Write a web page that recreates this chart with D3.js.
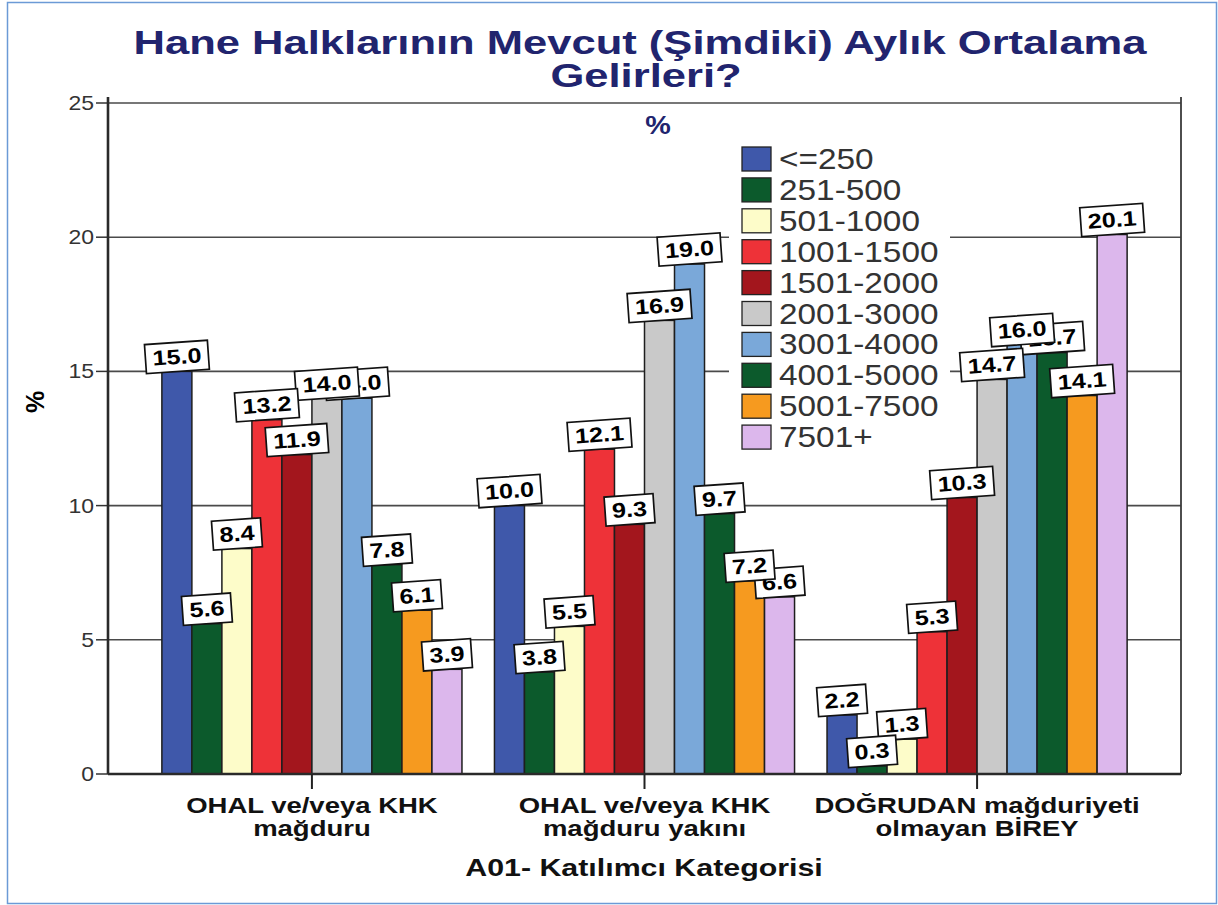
<!DOCTYPE html>
<html lang="tr">
<head>
<meta charset="UTF-8">
<title>Hane Halklarının Mevcut Aylık Ortalama Gelirleri</title>
<script src="https://d3js.org/d3.v7.min.js"></script>
<style>
  body { margin: 0; background: #fff; }
  text { font-family: "Liberation Sans", Arial, sans-serif; }
</style>
</head>
<body>
<svg width="1218" height="905"></svg>
<script>
// --- data ---
var categories = [
  ["OHAL ve/veya KHK", "mağduru"],
  ["OHAL ve/veya KHK", "mağduru yakını"],
  ["DOĞRUDAN mağduriyeti", "olmayan BİREY"]
];
var incomeGroups = ["<=250", "251-500", "501-1000", "1001-1500", "1501-2000",
                    "2001-3000", "3001-4000", "4001-5000", "5001-7500", "7501+"];
var valuesVictim   = [15.0, 5.6, 8.4, 13.2, 11.9, 14.0, 14.0, 7.8, 6.1, 3.9];
var valuesRelative = [10.0, 3.8, 5.5, 12.1, 9.3, 16.9, 19.0, 9.7, 7.2, 6.6];
var valuesOther    = [2.2, 0.3, 1.3, 5.3, 10.3, 14.7, 16.0, 15.7, 14.1, 20.1];
var yTicks = [0, 5, 10, 15, 20, 25];
var groupColors = ["#3f58aa", "#0c5a2c", "#fdfcc9", "#ee3238", "#a3161d",
                   "#c9c9c9", "#7aa8d9", "#0c5a2c", "#f69a1f", "#dcb7ec"];

var series = [valuesVictim, valuesRelative, valuesOther];

var svg = d3.select("svg");

// text drawn with a horizontal stretch, the source picture is wider than tall
function stext(g, x, y, str, size, weight, anchor, fill, sx) {
  return g.append("text")
    .attr("transform", "translate(" + x + "," + y + ") scale(" + (sx || 1.15) + ",1)")
    .attr("text-anchor", anchor || "middle")
    .attr("font-size", size)
    .attr("font-weight", weight || "normal")
    .attr("fill", fill || "#000")
    .text(str);
}

// outer frame
svg.append("rect")
  .attr("x", 7.5).attr("y", 2.5).attr("width", 1209).attr("height", 901)
  .attr("fill", "none").attr("stroke", "#6b9ad6").attr("stroke-width", 1.5);

var plotL = 108, plotR = 1181, plotT = 103, plotB = 774;

var y = d3.scaleLinear().domain([0, 25]).range([plotB, plotT]);
var x0 = d3.scaleBand().domain(d3.range(categories.length))
  .range([plotL, plotR]).paddingInner(0.0977).paddingOuter(0.162);
var x1 = d3.scaleBand().domain(incomeGroups).range([0, x0.bandwidth()]);

// title
stext(svg, 640, 54, "Hane Halklarının Mevcut (Şimdiki) Aylık Ortalama", 33, "bold", "middle", "#21246e", 1.32);
stext(svg, 646, 87, "Gelirleri?", 33, "bold", "middle", "#21246e", 1.32);
stext(svg, 658, 134, "%", 25, "bold", "middle", "#21246e");

// grid lines
svg.append("g").selectAll("line").data(yTicks.filter(function(d) { return d > 0; }))
  .join("line")
  .attr("x1", plotL).attr("x2", plotR)
  .attr("y1", function(d) { return y(d); }).attr("y2", function(d) { return y(d); })
  .attr("stroke", "#4a4a4a").attr("stroke-width", 1.6);

// legend background hides the grid behind it
svg.append("rect")
  .attr("x", 729).attr("y", 140).attr("width", 221).attr("height", 312)
  .attr("fill", "#fff");

// bars
var groups = svg.append("g").selectAll("g").data(series).join("g")
  .attr("transform", function(d, i) { return "translate(" + x0(i) + ",0)"; });

groups.selectAll("rect").data(function(d) { return d; }).join("rect")
  .attr("x", function(d, i) { return x1(incomeGroups[i]); })
  .attr("y", function(d) { return y(d); })
  .attr("width", x1.bandwidth())
  .attr("height", function(d) { return y(0) - y(d); })
  .attr("fill", function(d, i) { return groupColors[i]; })
  .attr("stroke", "#1e1e1e").attr("stroke-width", 1.5);

// axes
var yAxis = svg.append("g").attr("transform", "translate(" + plotL + ",0)");
yAxis.selectAll("line.tick").data(yTicks).join("line")
  .attr("class", "tick")
  .attr("x1", -12).attr("x2", 0)
  .attr("y1", function(d) { return y(d); }).attr("y2", function(d) { return y(d); })
  .attr("stroke", "#333").attr("stroke-width", 1.5);
yTicks.forEach(function(t) {
  stext(yAxis, -14, y(t) + 7, String(t), 20, "normal", "end", "#333");
});
svg.append("line").attr("x1", plotL).attr("x2", plotL).attr("y1", plotT - 6).attr("y2", plotB)
  .attr("stroke", "#2a2a2a").attr("stroke-width", 2.6);
svg.append("line").attr("x1", plotR).attr("x2", plotR).attr("y1", plotT - 6).attr("y2", plotB)
  .attr("stroke", "#3a3a3a").attr("stroke-width", 1.8);
svg.append("line").attr("x1", plotL).attr("x2", plotR).attr("y1", plotB).attr("y2", plotB)
  .attr("stroke", "#2a2a2a").attr("stroke-width", 2.4);

// category ticks and labels
categories.forEach(function(c, i) {
  var cx = x0(i) + x0.bandwidth() / 2;
  svg.append("line").attr("x1", cx).attr("x2", cx).attr("y1", plotB).attr("y2", plotB + 15)
    .attr("stroke", "#222").attr("stroke-width", 2);
  stext(svg, cx, 813, c[0], 22, "bold", "middle", "#111", 1.25);
  stext(svg, cx, 836, c[1], 22, "bold", "middle", "#111", 1.25);
});
stext(svg, 644, 876, "A01- Katılımcı Kategorisi", 23, "bold", "middle", "#111", 1.32);

// y axis title
svg.append("text")
  .attr("transform", "translate(44,402) rotate(-90)")
  .attr("text-anchor", "middle").attr("font-size", 25).attr("font-weight", "bold")
  .text("%");

// value labels: white tilted boxes sitting on the bar tops, left ones on top
var labels = svg.append("g");
series.forEach(function(vals, gi) {
  for (var i = vals.length - 1; i >= 0; i--) {
    var v = vals[i];
    var cx = x0(gi) + x1(incomeGroups[i]) + x1.bandwidth() / 2;
    var lg = labels.append("g")
      .attr("transform", "translate(" + cx + "," + (y(v) - 15) + ") rotate(-4)");
    var box = lg.append("rect").attr("fill", "#fff").attr("stroke", "#111").attr("stroke-width", 1.7);
    var t = lg.append("text")
      .attr("transform", "scale(1.2,1)")
      .attr("text-anchor", "middle").attr("y", 7.5)
      .attr("font-size", 21).attr("font-weight", "bold")
      .text(v.toFixed(1));
    var w = t.node().getComputedTextLength() * 1.2 + 14;
    box.attr("x", -w / 2).attr("y", -14).attr("width", w).attr("height", 29);
  }
});

// legend
var legend = svg.append("g").attr("transform", "translate(742,147)");
incomeGroups.forEach(function(name, i) {
  var row = legend.append("g").attr("transform", "translate(0," + (i * 30.9) + ")");
  row.append("rect").attr("width", 29).attr("height", 24)
    .attr("fill", groupColors[i]).attr("stroke", "#222").attr("stroke-width", 1.3);
  stext(row, 37, 22, name, 29, "normal", "start", "#333", 1.15);
});
</script>
</body>
</html>
